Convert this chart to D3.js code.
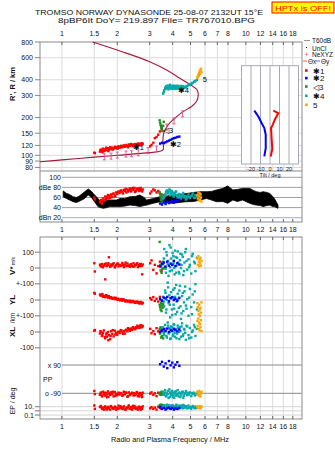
<!DOCTYPE html>
<html>
<head>
<meta charset="utf-8">
<script src="https://cdn.jsdelivr.net/npm/d3@7"></script>
<style>
    body { margin: 0; background: #fff; }
    svg text { font-family: "Liberation Sans", Arial, sans-serif; fill: #111; }
</style>
</head>
<body>
<svg id="chart" width="335" height="451"></svg>
<script>
"use strict";

// frequency axis (MHz)
const freqTicks = [1, 1.5, 2, 3, 4, 5, 6, 7, 8, 10, 12, 14, 16, 18];
const heightTicks = [800, 600, 400, 300, 200, 150, 120, 100, 90, 80];
const dbTicks = [[100, "100"], [80, "dBe 80"], [60, "60"], [40, "40"], [20, "dBn 20"]];
const tiltTicks = [-20, -10, 0, 10, 20];

// real height profile (plasma frequency, km)
const profF = [0.76, 1.0, 1.5, 2.0, 3.0, 3.41, 3.55, 3.54, 3.58, 3.78, 4.02, 4.56, 5.07, 5.39, 5.51, 5.44, 5.17, 4.38, 3.71, 3.0, 2.07, 1.47];
const profH = [88.8, 92, 96.8, 100, 105, 107.7, 111, 133, 151, 175, 192, 223, 245, 268, 303, 332, 353, 411, 479, 558, 678, 800];

// NeXYZ markers
const neF = [1.70, 1.85, 2.00, 2.23, 2.39, 2.60, 2.94, 3.27, 3.71, 4.07, 4.53];
const neH = [97.3, 98.5, 100.5, 102.3, 102.9, 104.7, 109, 112, 168, 188, 214];

// tilt profiles (km, deg)
const tiltXh = [227, 217, 206, 194, 175, 165, 133, 112, 98];
const tiltX = [3.5, 8.7, 7.1, 5.3, 2.8, 1.1, 1.8, 2.4, 0.7];
const tiltYh = [227, 204, 180, 165, 146, 114, 98];
const tiltY = [-16.5, -12.3, -8.7, -6.0, -4.5, -4.5, -6.0];

// noise amplitude band: [MHz, low dB, high dB]
const noise = [
    [1.016, 61.5, 73], [1.06, 58, 68], [1.1, 55, 66], [1.15, 51.7, 61.6], [1.2, 50, 60],
    [1.25, 53, 63.6], [1.33, 58, 71.5], [1.39, 65, 77], [1.45, 60, 72], [1.48, 55, 68],
    [1.57, 42, 58], [1.62, 40, 52], [1.68, 38.6, 51.7], [1.75, 40, 54], [1.82, 42, 55],
    [1.98, 42, 55], [2.07, 42, 58], [2.2, 43, 58], [2.34, 45, 61.6], [2.5, 44, 62],
    [2.65, 42, 65], [2.8, 44, 60], [2.89, 45, 55], [3.14, 48.5, 58], [3.41, 51.7, 61.6],
    [3.6, 50, 62], [4.0, 48.5, 65], [4.3, 50, 66], [4.77, 51.7, 68], [5.2, 52, 70],
    [5.62, 55, 71.5], [6.12, 58, 71.5], [6.5, 55, 72], [6.93, 51.7, 75], [7.5, 52, 78],
    [7.97, 48.5, 83], [8.5, 55, 75], [9.0, 52, 76], [9.6, 55, 78], [10.5, 48.5, 78],
    [11.0, 46, 74], [11.4, 45, 71.5], [12.0, 44, 70], [12.4, 42, 71.5], [13.0, 44, 70],
    [13.5, 45, 68], [14.0, 42, 62], [14.3, 42, 58], [14.96, 38.6, 45]
];

// echoes: [MHz, range km, dB, V* m/s, YL km, XL km, PP deg, EP deg]
const echo1 = [
    [1.50, 105, 60, 30, 45, 8, -75, 20], [1.51, 104, 56, -22, 40, 12, -95, 3],
    [1.61, 107, 52, 18, 35, -10, -100, 8], [1.63, 111, 55, 10, 28, 2, -85, 15],
    [1.65, 109, 48, 25, 32, -25, -110, 4], [1.67, 113, 58, 5, 20, -5, -80, 6],
    [1.69, 108, 54, 15, 26, 10, -95, 2], [1.72, 112, 62, -72, 18, -40, -105, 12],
    [1.74, 115, 57, 28, 30, -15, -88, 5], [1.76, 110, 60, 12, 22, -30, -115, 3],
    [1.78, 114, 65, 20, 15, 0, -78, 9], [1.80, 111, 63, 68, 24, -20, -92, 4],
    [1.83, 116, 59, 8, 12, -45, -100, 2], [1.85, 112, 66, 22, 18, 5, -84, 14],
    [1.88, 115, 61, 16, 10, -12, -96, 6], [1.91, 113, 68, 30, 14, -28, -110, 3],
    [1.94, 117, 64, 4, 6, 8, -82, 10], [1.97, 114, 70, 18, 12, -8, -94, 2],
    [2.00, 116, 67, 26, 4, -18, -102, 5], [2.03, 118, 72, 10, 8, 2, -86, 18],
    [2.06, 115, 69, 20, 0, -6, -98, 4], [2.10, 119, 74, 14, 6, 12, -90, 7],
    [2.13, 116, 71, 32, -4, -2, -106, 3], [2.17, 120, 75, 6, 2, 6, -80, 12],
    [2.20, 117, 73, 22, -6, -10, -96, 2], [2.24, 121, 70, 12, -2, 15, -88, 6],
    [2.27, 118, 76, 28, -8, 4, -112, 4], [2.31, 122, 74, 16, -10, 18, -84, 20],
    [2.34, 119, 78, 8, -4, 8, -100, 3], [2.38, 123, 72, 24, -12, 22, -92, 8],
    [2.41, 120, 77, 14, -8, 14, -86, 2], [2.45, 122, 75, 30, -14, 26, -104, 5],
    [2.48, 119, 79, 10, -10, 20, -90, 15], [2.52, 123, 73, 20, -16, 30, -96, 3],
    [2.55, 121, 76, 26, -12, 24, -82, 6], [2.59, 124, 78, 6, -18, 34, -108, 2],
    [2.62, 121, 74, 18, -14, 28, -94, 10], [2.66, 124, 77, 24, -20, 38, -88, 4],
    [2.70, 122, 75, 12, -16, 32, -100, 7], [2.73, 125, 72, -40, -22, 40, -114, 3],
    [2.75, 123, 76, 22, -18, 36, -86, 12], [3.02, 118, 68, 30, 12, 20, -92, 4],
    [3.07, 121, 72, 48, 2, -8, -84, 8], [3.14, 126, 76, -12, 18, 6, -100, 3],
    [3.20, 137, 74, 20, -6, -14, -90, 6], [3.27, 140, 70, -34, 8, 24, -108, 2],
    [3.34, 146, 73, 12, -10, 4, -86, 10], [3.41, 155, 69, 40, 20, -6, -96, 5],
    [3.48, 164, 66, -20, -2, 14, -90, 3],
    [1.62, 110, 50, 22, 30, 5, -92, 10], [1.66, 106, 53, 8, 38, -18, -104, 3],
    [1.71, 109, 56, 26, 24, -32, -86, 7], [1.75, 113, 61, 14, 28, -8, -98, 2],
    [1.79, 108, 58, 30, 20, -52, -112, 5], [1.84, 114, 64, 12, 16, -24, -90, 11],
    [1.89, 111, 67, 24, 8, 12, -80, 4], [1.95, 115, 62, 10, 14, -16, -106, 8],
    [2.01, 113, 70, 28, 2, -2, -94, 3], [2.08, 117, 73, 16, -2, 8, -88, 13],
    [2.15, 118, 68, 20, 4, -12, -100, 5], [2.22, 119, 77, 34, -10, 10, -84, 2],
    [2.29, 116, 72, 14, -6, 24, -108, 9], [2.36, 121, 75, 22, -14, 12, -96, 4],
    [2.43, 118, 79, 8, -6, 30, -90, 16], [2.50, 122, 71, 18, -18, 18, -102, 6],
    [2.57, 119, 77, 30, -10, 40, -86, 3], [2.64, 123, 73, 12, -22, 26, -110, 8],
    [2.68, 120, 79, 26, -12, 44, -92, 2], [2.72, 124, 74, 16, -20, 30, -98, 5]
];
const echo2 = [
    [3.42, 124, 48, 10, 5, 2, 95, 8], [3.50, 126, 46, 25, -5, 10, 110, 3],
    [3.58, 125, 50, 35, 15, 18, 80, 5], [3.66, 127, 47, 8, 10, 5, 100, 2],
    [3.74, 129, 52, 40, 20, 22, 70, 4], [3.82, 131, 49, 15, -8, 0, 115, 6],
    [3.90, 133, 51, 28, 12, 14, 88, 3], [3.98, 135, 53, 20, 18, 8, 105, 5],
    [4.06, 137, 50, 45, 0, 20, 75, 2], [4.14, 138, 54, 12, 8, 12, 92, 4],
    [4.24, 140, 52, 30, -4, 4, 108, 3], [4.35, 141, 55, 22, 14, 16, 85, 5]
];
const echo3 = [
    [3.40, 190, 70, 165, -30, 20, -90, 20], [3.42, 182, 66, 20, -45, -10, -95, 25],
    [3.44, 175, 60, -15, -60, 30, -85, 15], [3.46, 170, 55, 10, -20, -35, -100, 30],
    [3.48, 165, 50, -30, -70, 5, -80, 20], [3.50, 160, 62, 35, -35, -25, -92, 12],
    [3.52, 156, 58, -5, -50, 15, -88, 25], [3.55, 172, 52, 25, -25, -40, -96, 18],
    [3.58, 185, 65, 0, -40, 0, -90, 22]
];
const echo4 = [
    [3.55, 310, 58, 40, 20, 30, -80, 10], [3.60, 330, 62, 120, -40, -20, -100, 20],
    [3.64, 345, 66, 10, 60, 45, -70, 5], [3.68, 355, 70, -30, -80, 10, -110, 15],
    [3.72, 340, 74, 80, 0, -35, -90, 30], [3.76, 360, 68, 25, 110, 60, -95, 8],
    [3.80, 335, 72, -50, -20, -10, -120, 25], [3.84, 350, 76, 145, 30, 25, -65, 12],
    [3.88, 365, 64, 5, -110, -45, -85, 4], [3.92, 340, 70, 60, 50, 35, -100, 18],
    [3.96, 355, 73, -15, -60, 5, -75, 6], [4.00, 345, 66, 95, 15, -25, -115, 22],
    [4.05, 360, 62, 30, -30, 50, -90, 10], [4.10, 350, 68, -40, 75, -5, -80, 3],
    [4.15, 338, 71, 70, -90, 20, -105, 14], [4.20, 348, 65, 15, -10, -40, -95, 28],
    [4.26, 358, 60, 105, 40, 40, -70, 7], [4.32, 342, 67, -25, -50, 0, -110, 16],
    [4.38, 352, 63, 50, 90, 30, -88, 5], [4.44, 346, 58, 0, -120, -30, -98, 20],
    [4.50, 356, 64, 85, 25, 55, -82, 9], [4.57, 344, 69, -45, -70, -15, -118, 26],
    [4.64, 352, 61, 35, 55, 15, -92, 6], [4.72, 348, 56, 120, -35, -50, -76, 13],
    [4.80, 355, 62, -10, 5, 35, -102, 4], [4.88, 362, 66, 55, -100, -20, -90, 19],
    [4.96, 368, 59, 20, 70, 25, -84, 8], [5.05, 372, 63, -35, -45, -35, -108, 3],
    [5.14, 378, 68, 90, 35, 10, -94, 15], [5.23, 385, 60, 40, -15, 45, -86, 6],
    [5.32, 392, 65, -20, 100, -25, -100, 11], [5.42, 398, 62, 65, -60, 20, -90, 5],
    [3.58, 320, 60, 60, -10, -5, -95, 6], [3.66, 338, 64, -5, 45, 20, -85, 14],
    [3.70, 350, 72, 100, -60, -25, -105, 4], [3.78, 345, 70, 45, 80, 40, -75, 22],
    [3.86, 360, 74, -20, -30, 0, -112, 9], [3.90, 342, 68, 130, 10, -40, -92, 3],
    [3.98, 352, 71, 20, -95, 30, -82, 17], [4.03, 338, 64, 75, 65, -15, -100, 7],
    [4.08, 355, 69, 0, -55, 45, -118, 12], [4.12, 345, 66, 110, 20, -30, -88, 5],
    [4.18, 358, 72, -30, 95, 15, -78, 24], [4.23, 340, 63, 65, -75, -10, -104, 8],
    [4.29, 350, 61, 35, 5, 25, -92, 3], [4.35, 345, 66, -35, 60, -45, -86, 15],
    [4.41, 357, 59, 90, -40, 5, -114, 6], [4.47, 348, 62, 20, -85, 35, -96, 10],
    [4.54, 354, 65, 70, 45, -25, -80, 4], [4.61, 346, 60, -20, -15, 20, -106, 18],
    [4.68, 350, 63, 100, 85, -5, -90, 7], [4.76, 357, 58, 45, -55, 40, -84, 12],
    [4.92, 365, 61, 5, 15, -40, -98, 5], [5.10, 375, 64, 75, -90, 0, -88, 9],
    [5.28, 388, 59, 30, 55, 30, -104, 4]
];
const echo5 = [
    [5.45, 415, 65, 60, -20, 70, -80, 12], [5.48, 425, 58, 20, -45, 40, -100, 8],
    [5.52, 440, 70, 75, -70, 85, -90, 5], [5.55, 430, 54, 40, -90, 20, -75, 10],
    [5.58, 455, 62, 10, -30, 60, -105, 6], [5.61, 470, 68, 55, -60, 10, -85, 14],
    [5.64, 445, 56, 30, -100, 50, -95, 4], [5.67, 480, 66, 65, -50, 30, -110, 9],
    [5.70, 490, 60, 15, -80, 75, -90, 6], [5.74, 460, 52, 45, -15, 5, -80, 11]
];

// trace labels in the ionogram: [text, MHz, km]
const traceLabels = [["✱1", 2.43, 110], ["✱2", 3.86, 117], ["◁3", 3.54, 151], ["✱4", 4.27, 311], ["5", 5.83, 385]];
const legendItems = [["✱1", "#ff0000"], ["✱2", "#0000ff"], ["◁3", "#1f8f1f"], ["✱4", "#0aa9a9"], ["5", "#ffa500"]];

const svg = d3.select("#chart");
const left = 40, right = 302;
const topY = 42, splitY = 171, dbBottom = 222, midTop = 237, midBottom = 419;

const x = d3.scaleLog().domain([0.76, 20.2]).range([left, right]);
const yH = d3.scaleLog().domain([800, 75]).range([topY, splitY]);
const yDb = d3.scaleLinear().domain([20, 100]).range([217.7, 177.3]);
const yV = d3.scaleLinear().domain([-100, 100]).range([283.8, 252.2]);
const yYL = d3.scaleLinear().domain([-100, 100]).range([315.8, 284.2]);
const yXL = d3.scaleLinear().domain([-100, 100]).range([347.8, 316.2]);
const yPP = d3.scaleLinear().domain([-90, 90]).range([393.3, 365]);
const yEP = d3.scaleLog().domain([0.1, 10]).range([415, 406.7]);
const xT = d3.scaleLinear().domain([-30, 30]).range([241.5, 298.5]);

function txt(g, xx, yy, s, size, anchor) {
    return g.append("text").attr("x", xx).attr("y", yy)
        .attr("font-size", size).attr("text-anchor", anchor || "start").text(s);
}

// title
const title = svg.append("g").attr("xml:space", "preserve");
txt(title, 35, 14.6, "TROMSO NORWAY   DYNASONDE 25-08-07 2132UT 15°E", 8)
    .attr("textLength", 228).attr("lengthAdjust", "spacingAndGlyphs");
txt(title, 58, 23.3, "8pBP6It DoY= 219.897 File= TR767010.BPG", 8)
    .attr("textLength", 197).attr("lengthAdjust", "spacingAndGlyphs");

svg.append("rect").attr("x", 272).attr("y", 2).attr("width", 62).attr("height", 11)
    .attr("fill", "#ffff00").attr("stroke", "#ff0000");
txt(svg, 303, 10.5, "HPTx is OFF!", 8, "middle").style("fill", "#ff0000")
    .attr("textLength", 56).attr("lengthAdjust", "spacingAndGlyphs");

// ---- grids
const grid = svg.append("g");
grid.selectAll(".vt").data(freqTicks).enter().append("line")
    .attr("x1", d => x(d)).attr("x2", d => x(d)).attr("y1", topY).attr("y2", splitY)
    .attr("stroke", "#dcdcdc");
grid.selectAll(".vm").data(freqTicks).enter().append("line")
    .attr("x1", d => x(d)).attr("x2", d => x(d)).attr("y1", midTop).attr("y2", midBottom)
    .attr("stroke", "#dcdcdc");
grid.selectAll(".ht").data(heightTicks.slice(1)).enter().append("line")
    .attr("x1", left).attr("x2", right).attr("y1", d => yH(d)).attr("y2", d => yH(d))
    .attr("stroke", "#dcdcdc");
grid.selectAll(".htk").data(heightTicks).enter().append("line")
    .attr("x1", 35).attr("x2", left).attr("y1", d => yH(d)).attr("y2", d => yH(d))
    .attr("stroke", "#888");
grid.selectAll(".db").data(dbTicks).enter().append("line")
    .attr("x1", 62).attr("x2", right).attr("y1", d => yDb(d[0])).attr("y2", d => yDb(d[0]))
    .attr("stroke", d => d[0] === 20 ? "#a8a8e0" : "#a0a0a0");

// middle panel rows
const midRows = [
    [yV(100), "100"], [yV(0), "0"], [yV(-100), "+-100"],
    [yYL(0), "0"], [yYL(-100), "+-100"], [yXL(0), "0"],
    [yXL(-100), "-100"], [yEP(10), "10."], [yEP(1), ""], [yEP(0.1), "0.1"]
];
midRows.forEach(r => {
    grid.append("line").attr("x1", 35).attr("x2", right).attr("y1", r[0]).attr("y2", r[0])
        .attr("stroke", "#d4d4d4");
    grid.append("line").attr("x1", 35).attr("x2", left).attr("y1", r[0]).attr("y2", r[0])
        .attr("stroke", "#888");
    if (r[1]) txt(grid, 34, r[0] + 2.5, r[1], 7, "end");
});
[[yPP(90), "x 90"], [yPP(-90), "o -90"]].forEach(r => {
    grid.append("line").attr("x1", 62).attr("x2", right).attr("y1", r[0]).attr("y2", r[0])
        .attr("stroke", "#8a8a8a");
    txt(grid, 61, r[0] + 2.5, r[1], 7, "end");
});
txt(grid, 43, 381.5, "PP", 7);

// ---- frames
const frame = svg.append("g").attr("fill", "none").attr("stroke", "#8a8a8a");
frame.append("rect").attr("x", left).attr("y", topY).attr("width", right - left).attr("height", dbBottom - topY);
frame.append("line").attr("x1", left).attr("x2", right).attr("y1", splitY).attr("y2", splitY);
frame.append("rect").attr("x", left).attr("y", midTop).attr("width", right - left).attr("height", midBottom - midTop);

// frequency ticks and labels
const ticks = svg.append("g");
[[topY, 1], [dbBottom, -1], [midTop, 1], [midBottom, -1]].forEach(t => {
    ticks.selectAll(null).data(freqTicks).enter().append("line")
        .attr("x1", d => x(d)).attr("x2", d => x(d))
        .attr("y1", t[0]).attr("y2", t[0] + 3 * t[1]).attr("stroke", "#666");
});
[35.5, 232, 428.5].forEach(yy => {
    ticks.selectAll(null).data(freqTicks).enter().append("text")
        .attr("x", d => x(d)).attr("y", yy).attr("font-size", 7).attr("text-anchor", "middle")
        .text(d => d);
});
txt(svg, 170, 441.5, "Radio and Plasma Frequency / MHz", 7.5, "middle")
    .attr("textLength", 118).attr("lengthAdjust", "spacingAndGlyphs");

// y labels
const ylab = svg.append("g");
heightTicks.forEach(h => txt(ylab, 33, yH(h) + 2.5, h, 7, "end"));
dbTicks.forEach(d => txt(ylab, 61, yDb(d[0]) + 2.5, d[1], 7, "end"));

function vlabel(xx, yy, s, size, bold) {
    return svg.append("text").attr("transform", `translate(${xx},${yy}) rotate(-90)`)
        .attr("font-size", size).attr("text-anchor", "middle")
        .attr("font-weight", bold ? "bold" : "normal").text(s);
}
vlabel(15, 84, "R', R / km", 7.5, true);
const vs = vlabel(15, 266, "V*", 8, true);
vs.append("tspan").attr("font-size", 5).attr("font-weight", "normal").text(" m/s");
vlabel(15, 300, "YL", 8, true);
vlabel(15, 318, "/km", 6.5, false);
vlabel(15, 332, "XL", 8, true);
vlabel(15, 401, "EP / deg", 7, false);

// ---- tilt inset
const inset = svg.append("g");
inset.append("rect").attr("x", xT(-30)).attr("y", 65.7).attr("width", xT(30) - xT(-30)).attr("height", 98.3)
    .attr("fill", "#fff").attr("stroke", "#a8a8b8");
inset.selectAll(null).data(tiltTicks).enter().append("line")
    .attr("x1", d => xT(d)).attr("x2", d => xT(d)).attr("y1", 65.7).attr("y2", 164)
    .attr("stroke", "#a8a8b8");
inset.selectAll(null).data(tiltTicks).enter().append("text")
    .attr("x", d => xT(d)).attr("y", 171).attr("font-size", 5.5).attr("text-anchor", "middle")
    .text(d => d);
txt(inset, 270, 176.5, "Tilt / deg", 5.5, "middle");
const tiltLine = d3.line().x(d => xT(d[0])).y(d => yH(d[1]));
inset.append("path").attr("d", tiltLine(d3.zip(tiltY, tiltYh)))
    .attr("fill", "none").attr("stroke", "#0000ff").attr("stroke-width", 2);
inset.append("path").attr("d", tiltLine(d3.zip(tiltX, tiltXh)))
    .attr("fill", "none").attr("stroke", "#ff0000").attr("stroke-width", 2);

// ---- noise band in amplitude panel
const noiseArea = d3.area().x(d => x(d[0])).y0(d => yDb(d[1])).y1(d => yDb(d[2]));
svg.append("path").attr("d", noiseArea(noise)).attr("fill", "#000")
    .attr("stroke", "#000").attr("stroke-width", 0.8);

// ---- profile and NeXYZ
svg.append("path").attr("d", d3.line().curve(d3.curveCatmullRom)
        .x(d => x(d[0])).y(d => yH(d[1]))(d3.zip(profF, profH)))
    .attr("fill", "none").attr("stroke", "#a8183c").attr("stroke-width", 1.1);
const ne = svg.append("g").attr("stroke", "#e0508a").attr("stroke-width", 0.9);
d3.zip(neF, neH).forEach(d => {
    const cx = x(d[0]), cy = yH(d[1]);
    ne.append("line").attr("x1", cx).attr("x2", cx).attr("y1", cy - 3).attr("y2", cy + 3);
    ne.append("line").attr("x1", cx - 1.5).attr("x2", cx + 1.5).attr("y1", cy - 3).attr("y2", cy - 3);
    ne.append("line").attr("x1", cx - 1.5).attr("x2", cx + 1.5).attr("y1", cy + 3).attr("y2", cy + 3);
});

// ---- echoes in every panel
const panels = [
    [1, yH], [2, yDb], [3, yV], [4, yYL], [5, yXL], [6, yPP], [7, yEP]
];
function drawEchoes(rows, color) {
    const g = svg.append("g").attr("fill", color);
    panels.forEach(p => {
        g.selectAll(null).data(rows).enter().append("rect")
            .attr("x", d => x(d[0]) - 1.2).attr("y", d => p[1](d[p[0]]) - 1.2)
            .attr("width", 2.4).attr("height", 2.4);
    });
}
drawEchoes(echo1, "#ff0000");
drawEchoes(echo3, "#1f8f1f");
drawEchoes(echo4, "#0aa9a9");
drawEchoes(echo2, "#0000ff");
drawEchoes(echo5, "#ffa500");

traceLabels.forEach(t => txt(svg, x(t[1]), yH(t[2]), t[0], 7.5).style("fill", "#000"));

// ---- legend
const leg = svg.append("g");
leg.append("line").attr("x1", 304).attr("x2", 310).attr("y1", 40.5).attr("y2", 40.5).attr("stroke", "#999");
txt(leg, 312, 43, "T60dB", 6.5);
leg.append("rect").attr("x", 306).attr("y", 47).attr("width", 1).attr("height", 1).attr("fill", "#000");
txt(leg, 312, 50.5, "UnCl", 6.5);
txt(leg, 304.5, 56.5, "+", 7).style("fill", "#e0508a");
txt(leg, 312, 57, "NeXYZ", 6.5);
leg.append("line").attr("x1", 303).attr("x2", 307).attr("y1", 61).attr("y2", 61).attr("stroke", "#ff6060");
txt(leg, 308, 63.5, "Θx", 6.5);
leg.append("line").attr("x1", 316).attr("x2", 320).attr("y1", 61).attr("y2", 61).attr("stroke", "#6060ff");
txt(leg, 321, 63.5, "Θy", 6.5);
legendItems.forEach((d, i) => {
    const yy = [70.7, 78.3, 86.7, 96, 105][i];
    leg.append("rect").attr("x", 305).attr("y", yy - 1.5).attr("width", 2.6).attr("height", 2.6).attr("fill", d[1]);
    txt(leg, 313, yy + 3, d[0], 8);
});
</script>
</body>
</html>
